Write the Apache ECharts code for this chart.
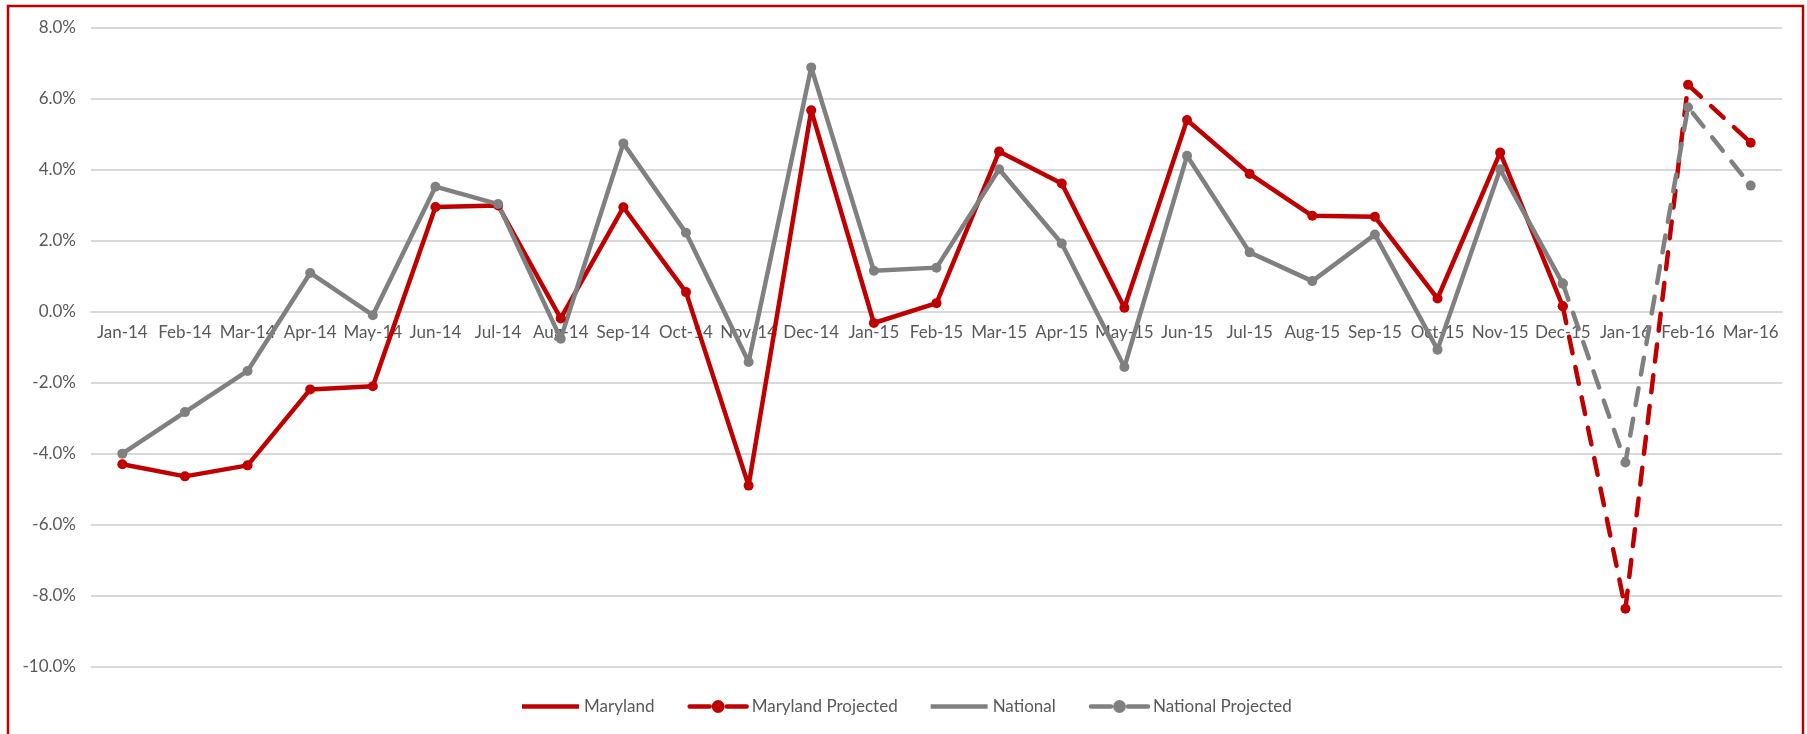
<!DOCTYPE html>
<html>
<head>
<meta charset="utf-8">
<title>Maryland vs National, monthly change</title>
<script src="https://cdn.jsdelivr.net/npm/echarts@6/dist/echarts.min.js"></script>
<style>
  html, body { margin: 0; padding: 0; background: #ffffff; }
  #chart { width: 1807px; height: 734px; }
</style>
</head>
<body>
<div id="chart"></div>
<script>
// Month labels along the category axis
const months = [
  'Jan-14', 'Feb-14', 'Mar-14', 'Apr-14', 'May-14', 'Jun-14', 'Jul-14', 'Aug-14', 'Sep-14',
  'Oct-14', 'Nov-14', 'Dec-14', 'Jan-15', 'Feb-15', 'Mar-15', 'Apr-15', 'May-15', 'Jun-15',
  'Jul-15', 'Aug-15', 'Sep-15', 'Oct-15', 'Nov-15', 'Dec-15', 'Jan-16', 'Feb-16', 'Mar-16'
];

// Actual monthly change, % (Jan-14 .. Dec-15)
const maryland = [
  -4.29, -4.63, -4.32, -2.18, -2.09, 2.96, 3.00, -0.18, 2.95, 0.56, -4.89, 5.68,
  -0.31, 0.25, 4.52, 3.62, 0.12, 5.41, 3.89, 2.71, 2.68, 0.38, 4.49, 0.16
];
const national = [
  -3.99, -2.82, -1.66, 1.10, -0.09, 3.53, 3.04, -0.75, 4.75, 2.23, -1.41, 6.89,
  1.16, 1.25, 4.02, 1.93, -1.55, 4.40, 1.68, 0.87, 2.18, -1.06, 4.02, 0.80
];

// Projected change, % (Dec-15 .. Mar-16)
const projectedStart = 'Dec-15';
const marylandProjected = [0.16, -8.36, 6.40, 4.77];
const nationalProjected = [0.80, -4.24, 5.77, 3.56];

// Y axis ticks, %
const yMin = -10;
const yMax = 8;
const yStep = 2;

const RED = '#C00000';
const GREY = '#808080';
const TEXT = '#595959';
const FONT = 'Lato, "Open Sans", sans-serif';

const CHART_H = 734;
const GRID = { left: 91, right: 25, top: 28, bottom: 67 };
const plotHeight = CHART_H - GRID.top - GRID.bottom;
// The month labels sit on the 0% line, so lift the bottom axis up to it
const zeroOffset = -plotHeight * (0 - yMin) / (yMax - yMin);

// Place a run of values on the full month axis, leaving other months empty
function alignTo(startLabel, values) {
  const start = months.indexOf(startLabel);
  return months.map((m, i) => {
    const k = i - start;
    return k >= 0 && k < values.length ? values[k] : null;
  });
}

const solidLine = (name, color, values) => ({
  name,
  type: 'line',
  data: alignTo(months[0], values),
  symbol: 'circle',
  symbolSize: 10,
  lineStyle: { color, width: 4.5 },
  itemStyle: { color },
  emphasis: { disabled: true },
  animation: false
});

const dashedLine = (name, color, values) => ({
  name,
  type: 'line',
  data: alignTo(projectedStart, values),
  symbol: 'circle',
  symbolSize: 10,
  lineStyle: { color, width: 4.5, type: [17, 14], cap: 'round' },
  itemStyle: { color },
  emphasis: { disabled: true },
  animation: false
});

const lineIcon = 'path://M0,0H57V4.5H0Z';

const chart = echarts.init(document.getElementById('chart'), null, { renderer: 'canvas' });

chart.setOption({
  backgroundColor: '#ffffff',
  animation: false,
  graphic: [{
    type: 'rect',
    shape: { x: 8, y: 6, width: 1795, height: 800 },
    style: { fill: 'none', stroke: RED, lineWidth: 2.5 },
    silent: true,
    z: 100
  }],
  grid: GRID,
  legend: {
    left: 517,
    top: 693,
    itemWidth: 57,
    itemHeight: 16,
    itemGap: 33,
    textStyle: { color: TEXT, fontSize: 17, fontFamily: FONT },
    data: [
      { name: 'Maryland', icon: lineIcon },
      { name: 'Maryland Projected', lineStyle: { type: [20, 17], width: 4.5 } },
      { name: 'National', icon: lineIcon },
      { name: 'National Projected', lineStyle: { type: [20, 17], width: 4.5 } }
    ]
  },
  xAxis: {
    type: 'category',
    data: months,
    boundaryGap: true,
    position: 'bottom',
    offset: zeroOffset,
    axisLine: { show: true, onZero: false, lineStyle: { color: '#d9d9d9', width: 2 } },
    axisTick: { show: false },
    axisLabel: {
      interval: 0,
      margin: 12,
      color: TEXT,
      fontSize: 17,
      fontFamily: FONT
    },
    splitLine: { show: false }
  },
  yAxis: {
    type: 'value',
    min: yMin,
    max: yMax,
    interval: yStep,
    axisLine: { show: false },
    axisTick: { show: false },
    axisLabel: {
      margin: 15,
      color: TEXT,
      fontSize: 17,
      fontFamily: FONT,
      formatter: v => v.toFixed(1) + '%'
    },
    splitLine: { lineStyle: { color: '#d9d9d9', width: 2 } }
  },
  series: [
    solidLine('Maryland', RED, maryland),
    dashedLine('Maryland Projected', RED, marylandProjected),
    solidLine('National', GREY, national),
    dashedLine('National Projected', GREY, nationalProjected)
  ]
});
</script>
</body>
</html>
